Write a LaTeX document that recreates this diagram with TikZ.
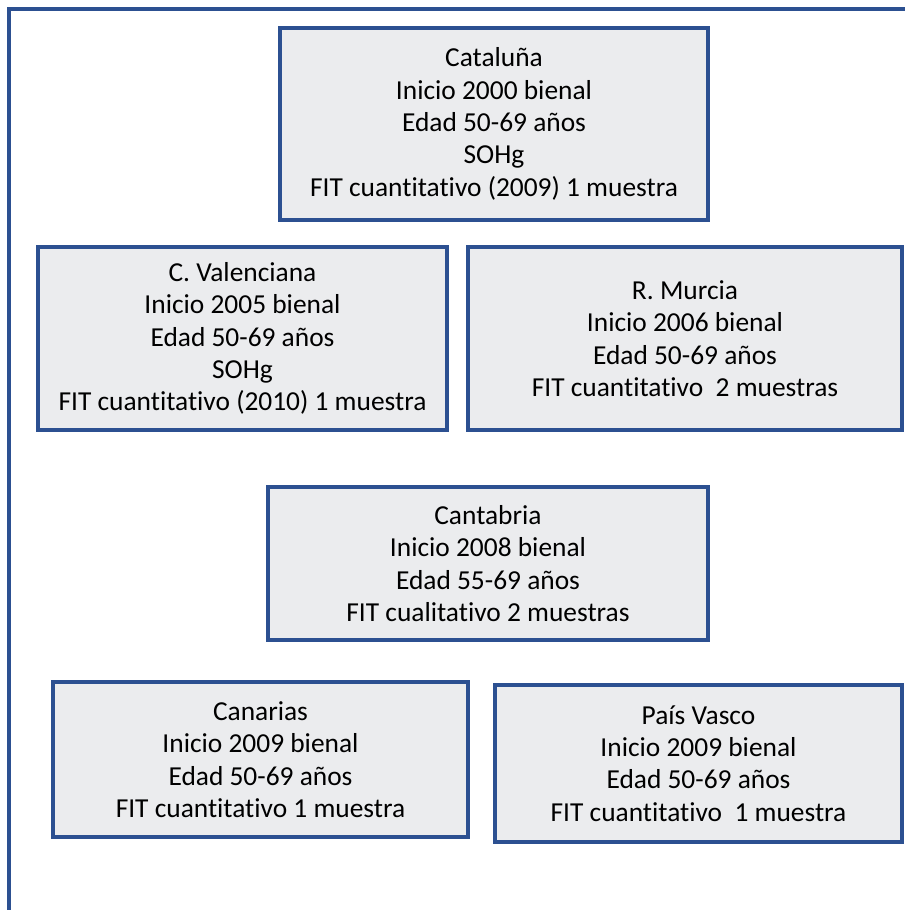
\documentclass[tikz,border=0pt]{standalone}
\usepackage{fontspec}
\setmainfont{Carlito}[Ligatures=NoCommon]
\definecolor{framecol}{RGB}{44,80,145}
\definecolor{boxfill}{RGB}{235,236,238}

\begin{document}
\begin{tikzpicture}[x=0.02cm, y=-0.02cm,
  region/.style={draw=framecol, fill=boxfill, line width=2.3pt, align=center,
    inner sep=0pt, font=\fontsize{15.6}{18.4}\selectfont}]
\useasboundingbox (0,0) rectangle (905,910);
\draw[framecol, line width=2.3pt] (9,910)--(9,9)--(905,9);
\node[region, minimum width=428*0.02cm, minimum height=192*0.02cm] (cat) at (494,124)
  {Cataluña\\Inicio 2000 bienal\\Edad 50-69 años\\SOHg\\FIT cuantitativo (2009) 1 muestra};
\node[region, minimum width=409*0.02cm, minimum height=183*0.02cm] (val) at (242.5,338.5)
  {C. Valenciana\\Inicio 2005 bienal\\Edad 50-69 años\\SOHg\\FIT cuantitativo (2010) 1 muestra};
\node[region, minimum width=434*0.02cm, minimum height=183*0.02cm] (mur) at (685,338.5)
  {R. Murcia\\Inicio 2006 bienal\\Edad 50-69 años\\FIT cuantitativo\ \ 2 muestras};
\node[region, minimum width=440*0.02cm, minimum height=153*0.02cm] (cant) at (488,563.5)
  {Cantabria\\Inicio 2008 bienal\\Edad 55-69 años\\FIT cualitativo 2 muestras};
\node[region, minimum width=415*0.02cm, minimum height=155*0.02cm] (can) at (260.5,759.5)
  {Canarias\\Inicio 2009 bienal\\Edad 50-69 años\\FIT cuantitativo 1 muestra};
\node[region, minimum width=407*0.02cm, minimum height=157*0.02cm] (vas) at (698.5,763.5)
  {País Vasco\\Inicio 2009 bienal\\Edad 50-69 años\\FIT cuantitativo\ \ 1 muestra};
\end{tikzpicture}
\end{document}
